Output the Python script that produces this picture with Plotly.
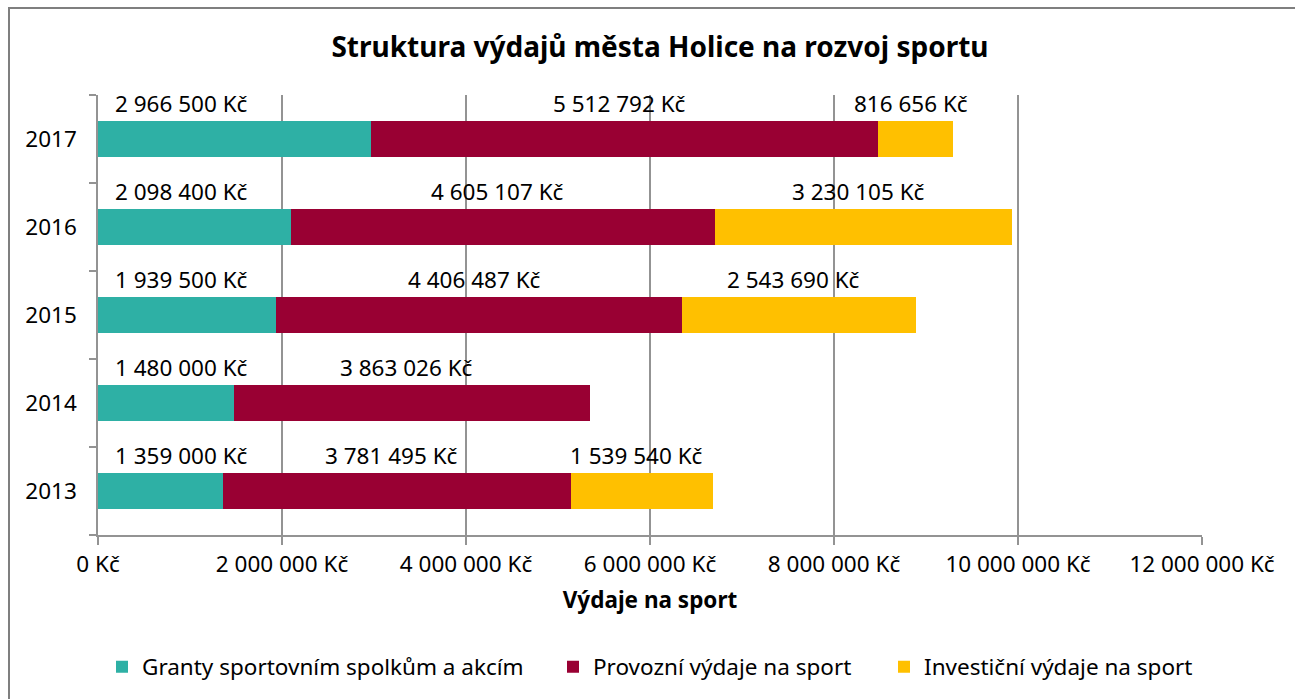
import plotly.graph_objects as go

# data
years = ["2013", "2014", "2015", "2016", "2017"]
granty = [1359000, 1480000, 1939500, 2098400, 2966500]
provozni = [3781495, 3863026, 4406487, 4605107, 5512792]
investicni = [1539540, None, 2543690, 3230105, 816656]
series_names = [
    "Granty sportovním spolkům a akcím",
    "Provozní výdaje na sport",
    "Investiční výdaje na sport",
]
colors = ["#2EB0A5", "#990033", "#FFC000"]
x_ticks = [0, 2000000, 4000000, 6000000, 8000000, 10000000, 12000000]


def kc(v):
    return f"{v:,}".replace(",", " ") + " Kč"


FONT = "Noto Sans"
FS = 22.5
GRID = "#939393"

fig = go.Figure()
legends = ["legend", "legend2", "legend3"]
for name, vals, col, lg in zip(series_names, [granty, provozni, investicni], colors, legends):
    fig.add_trace(
        go.Bar(
            y=years,
            x=vals,
            name=name,
            orientation="h",
            legend=lg,
            marker=dict(color=col, line=dict(width=0)),
        )
    )

# value labels above each segment
for i, year in enumerate(years):
    start = 0
    for k, vals in enumerate([granty, provozni, investicni]):
        v = vals[i]
        if not v:
            continue
        if k == 0:
            fig.add_annotation(x=0, y=i, text=kc(v), showarrow=False,
                               xanchor="left", xshift=15, yshift=36,
                               font=dict(size=FS, color="black"))
        else:
            fig.add_annotation(x=start + v / 2, y=i, text=kc(v), showarrow=False,
                               xanchor="center", xshift=-5, yshift=36,
                               font=dict(size=FS, color="black"))
        start += v

# outer frame
fig.add_shape(type="rect", xref="paper", yref="paper",
              x0=(9 - 98) / 1104, x1=(1310 - 98) / 1104,
              y0=(535 - 720) / 440, y1=(535 - 8) / 440,
              line=dict(color="#7f7f7f", width=2), fillcolor="rgba(0,0,0,0)", layer="below")

leg_y = (535 - 667) / 440
leg_common = dict(orientation="h", xanchor="left", y=leg_y, yanchor="middle",
                  font=dict(size=FS), itemwidth=30, bgcolor="rgba(0,0,0,0)")

fig.update_layout(
    barmode="stack",
    bargap=0.59,
    width=1295,
    height=699,
    margin=dict(l=98, r=93, t=95, b=164, autoexpand=False),
    plot_bgcolor="white",
    paper_bgcolor="white",
    font=dict(family=FONT, size=FS, color="black"),
    title=dict(text="<b>Struktura výdajů města Holice na rozvoj sportu</b>",
               x=(660 - 98) / 1104, xref="paper", xanchor="center",
               y=1 - 47 / 699, yanchor="middle",
               font=dict(size=28, color="black")),
    legend=dict(x=(102 - 98) / 1104, **leg_common),
    legend2=dict(x=(553 - 98) / 1104, **leg_common),
    legend3=dict(x=(884 - 98) / 1104, **leg_common),
    showlegend=True,
)

fig.update_xaxes(
    range=[0, 12000000],
    tickvals=x_ticks,
    ticktext=[kc(v) for v in x_ticks],
    showgrid=True,
    gridcolor=GRID,
    gridwidth=1.5,
    showline=True,
    linecolor=GRID,
    linewidth=1.5,
    ticks="outside",
    ticklen=8,
    tickwidth=1.5,
    tickcolor=GRID,
    zeroline=False,
    automargin=False,
    title=dict(text="<b>Výdaje na sport</b>", font=dict(size=FS), standoff=14),
)
fig.update_yaxes(
    type="category",
    categoryorder="array",
    categoryarray=years,
    range=[-0.5, 4.5],
    showline=True,
    linecolor=GRID,
    linewidth=1.5,
    ticks="outside",
    tickson="boundaries",
    ticklen=7,
    tickwidth=1.5,
    tickcolor=GRID,
    ticklabelstandoff=15,
    showgrid=False,
    automargin=False,
)

fig.write_html("out.html", config={"displayModeBar": False},
               post_script="document.body.style.margin='0';")
